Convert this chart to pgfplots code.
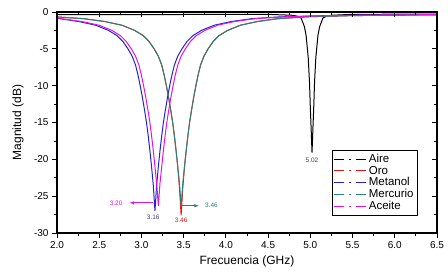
\documentclass[border=0pt]{standalone}
\usepackage{fontspec}
\setmainfont{Liberation Sans}
\usepackage{pgfplots}
\pgfplotsset{compat=1.18}
\definecolor{cAire}{RGB}{0,0,0}
\definecolor{cOro}{RGB}{230,20,20}
\definecolor{cMet}{RGB}{35,35,205}
\definecolor{cMer}{RGB}{45,130,120}
\definecolor{cAce}{RGB}{225,20,225}
\definecolor{cLab}{RGB}{60,60,140}
\begin{document}
\begin{tikzpicture}
\begin{axis}[name=ax,
  scale only axis, width=380pt, height=221pt,
  xmin=2.0, xmax=6.5, ymin=-30, ymax=0,
  xtick={2.0,2.5,...,6.5}, ytick={-30,-25,...,0},
  minor x tick num=1, minor y tick num=1,
  xtick pos=left, ytick pos=left, tick align=outside,
  major tick length=5pt, minor tick length=3pt,
  every tick/.style={black, line width=0.8pt},
  axis line style={line width=1.1pt},
  /pgf/number format/assume math mode=true,
  xticklabel style={/pgf/number format/fixed, /pgf/number format/fixed zerofill, /pgf/number format/precision=1},
  ticklabel style={font=\fontsize{10}{11}\selectfont},
  xlabel={Frecuencia (GHz)}, ylabel={Magnitud (dB)},
  label style={font=\fontsize{12}{13}\selectfont},
  xlabel style={at={(axis description cs:0.5,-0.127)}, anchor=center},
  ylabel style={at={(axis description cs:-0.1026,0.5)}, anchor=center},
  clip=true,
  legend cell align=left,
  legend style={at={(0.95,0.376)}, anchor=north east, draw=black, line width=0.8pt,
    font=\fontsize{11.5}{12}\selectfont, row sep=-2pt, inner sep=2pt},
  legend image code/.code={\draw[#1, line width=0.9pt, dash pattern=on 10pt off 5pt on 1.5pt off 5pt] (0pt,0pt) -- (32pt,0pt);},
  every axis plot/.append style={line width=1pt},
]
% Aire
\addplot[color=cAire] coordinates {
(2.0,-0.36) (3.0,-0.35) (4.0,-0.33) (4.5,-0.32) (4.80,-0.45) (4.85,-0.6) (4.89,-0.8)
(4.93,-2.0) (4.95,-3.2) (4.975,-6.2) (4.99,-9.5) (5.00,-13) (5.01,-16) (5.02,-19.1)
(5.03,-16) (5.04,-13) (5.05,-9.5) (5.065,-6.2) (5.09,-3.2) (5.11,-2.0) (5.15,-0.8)
(5.19,-0.6) (5.24,-0.45) (5.5,-0.32) (6.0,-0.3) (6.5,-0.3)};
\addlegendentry{Aire}
% Oro
\addplot[color=cOro] coordinates {
(2.00,-0.67) (2.31,-0.9) (2.57,-1.3) (2.77,-1.8) (2.92,-2.5) (3.02,-3.2) (3.09,-4.0)
(3.15,-5.0) (3.20,-6.0) (3.24,-7.2) (3.27,-8.6) (3.295,-10.0) (3.32,-11.5) (3.345,-13.2)
(3.37,-15.0) (3.39,-16.8) (3.41,-18.8) (3.43,-21.0) (3.45,-23.8) (3.47,-27.6)
(3.49,-23.8) (3.51,-21.0) (3.53,-18.8) (3.55,-16.8) (3.57,-15.0) (3.595,-13.2) (3.62,-11.5)
(3.645,-10.0) (3.67,-8.6) (3.70,-7.2) (3.74,-6.0) (3.79,-5.0) (3.85,-4.0) (3.92,-3.2)
(4.02,-2.5) (4.17,-1.8) (4.37,-1.3) (4.62,-0.9) (4.97,-0.65) (5.47,-0.5) (5.97,-0.42) (6.5,-0.38)};
\addlegendentry{Oro}
% Metanol
\addplot[color=cMet] coordinates {
(2.00,-0.85) (2.26,-1.3) (2.46,-1.8) (2.61,-2.5) (2.71,-3.2) (2.78,-4.0) (2.84,-5.0)
(2.89,-6.0) (2.93,-7.2) (2.96,-8.6) (2.985,-10.0) (3.01,-11.5) (3.035,-13.2) (3.06,-15.0)
(3.08,-16.8) (3.10,-18.8) (3.12,-21.0) (3.14,-23.5) (3.16,-27.0)
(3.18,-23.5) (3.20,-21.0) (3.22,-18.8) (3.24,-16.8) (3.26,-15.0) (3.285,-13.2) (3.31,-11.5)
(3.335,-10.0) (3.36,-8.6) (3.39,-7.2) (3.43,-6.0) (3.48,-5.0) (3.54,-4.0) (3.61,-3.2)
(3.71,-2.5) (3.86,-1.8) (4.06,-1.3) (4.31,-0.9) (4.66,-0.65) (5.16,-0.5) (5.66,-0.42) (6.16,-0.38) (6.5,-0.36)};
\addlegendentry{Metanol}
% Mercurio
\addplot[color=cMer] coordinates {
(2.00,-0.67) (2.31,-0.9) (2.57,-1.3) (2.77,-1.8) (2.92,-2.5) (3.02,-3.2) (3.09,-4.0)
(3.15,-5.0) (3.20,-6.0) (3.24,-7.2) (3.27,-8.6) (3.295,-10.0) (3.32,-11.5) (3.345,-13.2)
(3.37,-15.0) (3.39,-16.8) (3.41,-18.8) (3.43,-21.0) (3.45,-23.2) (3.47,-26.4)
(3.49,-23.2) (3.51,-21.0) (3.53,-18.8) (3.55,-16.8) (3.57,-15.0) (3.595,-13.2) (3.62,-11.5)
(3.645,-10.0) (3.67,-8.6) (3.70,-7.2) (3.74,-6.0) (3.79,-5.0) (3.85,-4.0) (3.92,-3.2)
(4.02,-2.5) (4.17,-1.8) (4.37,-1.3) (4.62,-0.9) (4.97,-0.65) (5.47,-0.5) (5.97,-0.42) (6.5,-0.38)};
\addlegendentry{Mercurio}
% Aceite
\addplot[color=cAce] coordinates {
(2.00,-0.82) (2.30,-1.3) (2.50,-1.8) (2.65,-2.5) (2.75,-3.2) (2.82,-4.0) (2.88,-5.0)
(2.93,-6.0) (2.97,-7.2) (3.00,-8.6) (3.025,-10.0) (3.05,-11.5) (3.075,-13.2) (3.10,-15.0)
(3.12,-16.8) (3.14,-18.8) (3.16,-21.0) (3.18,-23.2) (3.20,-26.3)
(3.22,-23.2) (3.24,-21.0) (3.26,-18.8) (3.28,-16.8) (3.30,-15.0) (3.325,-13.2) (3.35,-11.5)
(3.375,-10.0) (3.40,-8.6) (3.43,-7.2) (3.47,-6.0) (3.52,-5.0) (3.58,-4.0) (3.65,-3.2)
(3.75,-2.5) (3.90,-1.8) (4.10,-1.3) (4.35,-0.9) (4.70,-0.65) (5.20,-0.5) (5.70,-0.42) (6.20,-0.38) (6.5,-0.36)};
\addlegendentry{Aceite}
% annotations
\node[font=\fontsize{6.5}{7}\selectfont, text=black!75] at (axis cs:5.02,-20.1) {5.02};
\node[font=\fontsize{6.5}{7}\selectfont, text=cLab] at (axis cs:3.14,-27.8) {3.16};
\node[font=\fontsize{6.5}{7}\selectfont, text=cOro] at (axis cs:3.47,-28.3) {3.46};
\draw[-latex, cMer, line width=0.6pt] (axis cs:3.48,-26.3) -- (axis cs:3.68,-26.3);
\node[font=\fontsize{6.5}{7}\selectfont, text=cMer] at (axis cs:3.83,-26.3) {3.46};
\draw[-latex, cAce, line width=0.6pt] (axis cs:3.14,-25.9) -- (axis cs:2.86,-25.9);
\node[font=\fontsize{6.5}{7}\selectfont, text=cAce] at (axis cs:2.70,-25.9) {3.20};
\end{axis}
\begin{axis}[
  scale only axis, width=380pt, height=221pt,
  xmin=2.0, xmax=6.5, ymin=-30, ymax=0,
  xtick={2.0,2.5,...,6.5}, ytick={-30,-25,...,0},
  minor x tick num=1, minor y tick num=1,
  xtick pos=right, ytick pos=right, tick align=inside,
  major tick length=5pt, minor tick length=3pt,
  every tick/.style={black, line width=0.8pt},
  axis line style={line width=1.1pt},
  xticklabels={}, yticklabels={},
]
\end{axis}
\pgfresetboundingbox
\path[use as bounding box] ([shift={(-57pt,-39pt)}]ax.south west) rectangle ([shift={(11pt,12pt)}]ax.north east);
\end{tikzpicture}
\end{document}
